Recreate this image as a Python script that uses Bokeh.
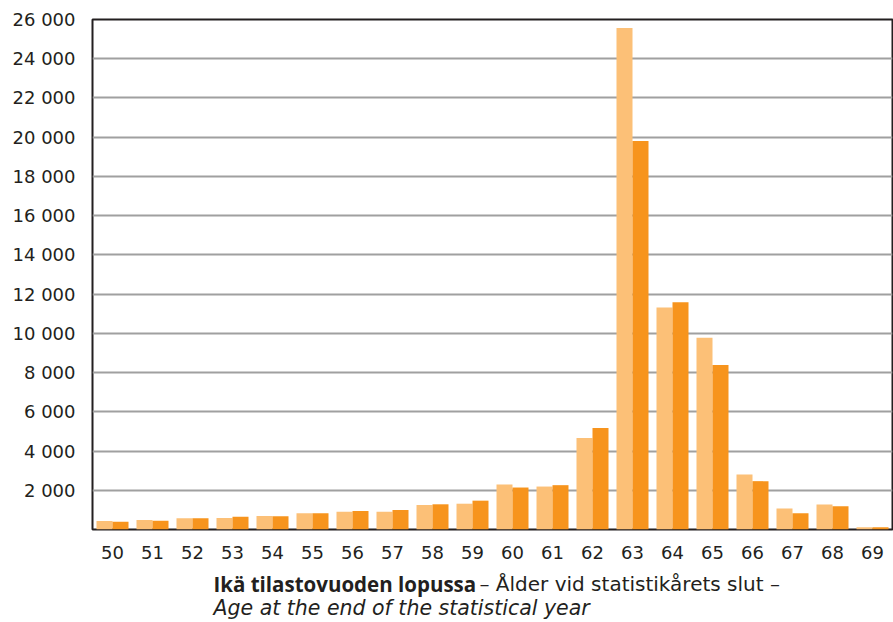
from bokeh.plotting import figure
from bokeh.models import FactorRange, Range1d, FixedTicker, ColumnDataSource
from bokeh.layouts import column
from bokeh.transform import dodge
from bokeh.core.properties import value
from bokeh.embed import file_html
from bokeh.resources import INLINE

ages = [str(a) for a in range(50, 70)]
series_a = [430, 480, 570, 585, 690, 825, 910, 910, 1250, 1315,
            2295, 2190, 4670, 25570, 11320, 9770, 2805, 1070, 1275, 120]
series_b = [400, 450, 570, 655, 680, 830, 945, 995, 1285, 1470,
            2140, 2260, 5180, 19810, 11590, 8380, 2465, 830, 1190, 120]
y_ticks = list(range(2000, 26001, 2000))
title_bold = "Ikä tilastovuoden lopussa"
title_rest = "– Ålder vid statistikårets slut –"
title_en = "Age at the end of the statistical year"

W = 893
LEFT, RIGHT = 92, 1
src = ColumnDataSource(dict(age=ages, a=series_a, b=series_b))

p = figure(x_range=FactorRange(*ages), y_range=Range1d(0, 26000),
           width=W, height=565, output_backend="svg", toolbar_location=None,
           min_border_left=LEFT, min_border_right=RIGHT, min_border_top=19, min_border_bottom=36)

p.vbar(x=dodge("age", -0.2, range=p.x_range), top="a", width=0.4, source=src,
       color="#FCC077", line_color=None)
p.vbar(x=dodge("age", 0.2, range=p.x_range), top="b", width=0.4, source=src,
       color="#F7941D", line_color=None)

p.outline_line_color = "#231f20"
p.outline_line_width = 2
p.xgrid.grid_line_color = None
p.ygrid.grid_line_color = "#a0a0a0"
p.ygrid.grid_line_width = 2
p.ygrid.ticker = FixedTicker(ticks=y_ticks)
p.yaxis.ticker = FixedTicker(ticks=y_ticks)
p.yaxis.major_label_overrides = {t: f"{t:,}".replace(",", " ") for t in y_ticks}

for ax in (p.xaxis[0], p.yaxis[0]):
    ax.axis_line_color = None
    ax.major_tick_line_color = None
    ax.minor_tick_line_color = None
    ax.major_label_text_font = "DejaVu Sans"
    ax.major_label_text_font_size = "18px"
    ax.major_label_text_color = "#231f20"
p.yaxis.major_label_standoff = 11
p.xaxis.major_label_standoff = 10

# caption below the chart; x range expressed in canvas pixels
t = figure(width=W, height=57, x_range=Range1d(LEFT, W - RIGHT), y_range=Range1d(0, 57),
           x_axis_type=None, y_axis_type=None,
           output_backend="svg", toolbar_location=None,
           min_border_left=LEFT, min_border_right=RIGHT, min_border_top=0,
           min_border_bottom=0, outline_line_color=None)
t.grid.visible = False
common = dict(text_color="#231f20", text_baseline="alphabetic")
t.text(x=[213], y=[39], text=[title_bold], text_font=value("Open Sans"),
       text_font_size="20.5px", text_font_style="bold", **common)
t.text(x=[479], y=[39], text=[title_rest], text_font=value("DejaVu Sans"),
       text_font_size="20px", **common)
t.text(x=[213], y=[15], text=[title_en], text_font=value("DejaVu Sans"),
       text_font_size="20.5px", text_font_style="italic", **common)

layout = column(p, t, spacing=0)
open("out.html", "w").write(file_html(layout, INLINE))
